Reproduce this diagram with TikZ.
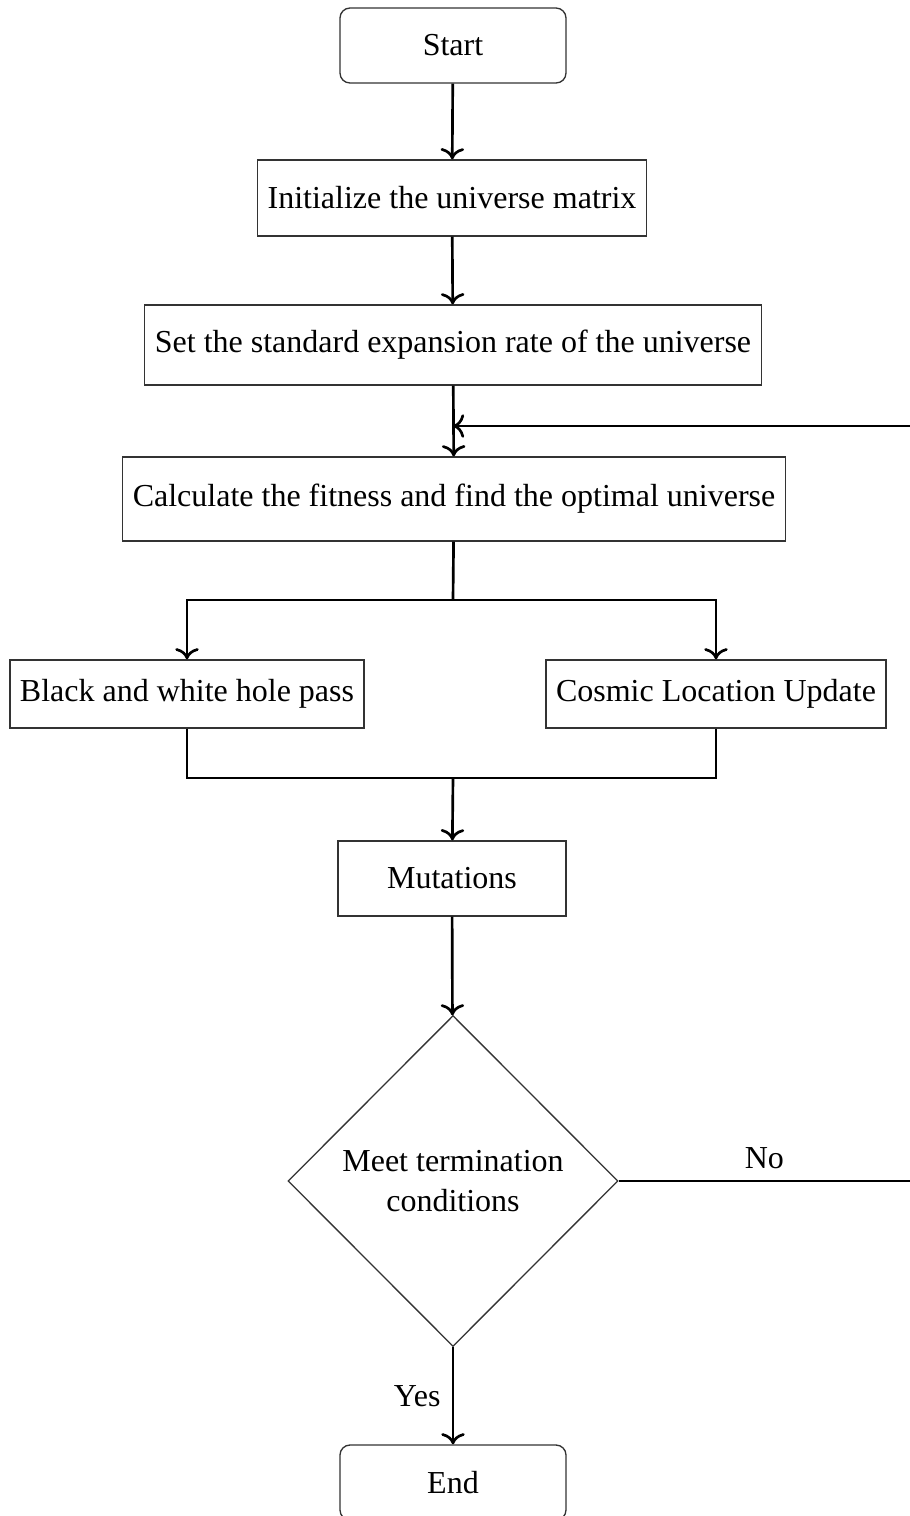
\documentclass[tikz,border=0pt]{standalone}
\usepackage{fontspec}
\setmainfont{Liberation Serif}
\usetikzlibrary{positioning, shapes.geometric, arrows.meta}

\begin{document}
\begin{tikzpicture}[x=0.3pt, y=-0.3pt, font=\fontsize{9.6pt}{12pt}\selectfont,
		box/.style={shape=rectangle, draw=black!80, thin, inner sep=0.3em},
		term/.style={box, rounded corners=3pt, minimum width=67.8pt, minimum height=22.5pt},
		line/.style={thick, black}]
		\useasboundingbox (0, 0) rectangle (910, 1516);
		\node[term] (start) at (453, 45.5) {Start};
		\node[box, minimum width=116.4pt, minimum height=22.8pt] (init) at (452, 198) {Initialize the universe matrix};
		\node[box, minimum width=185.1pt, minimum height=24pt] (rate) at (453, 345) {Set the standard expansion rate of the universe};
		\node[box, minimum width=198pt, minimum height=25.2pt] (fit) at (454, 499) {Calculate the fitness and find the optimal universe};
		\node[box, minimum width=106.2pt, minimum height=20.4pt] (hole) at (187, 694) {Black and white hole pass};
		\node[box, minimum width=101.7pt, minimum height=20.4pt] (cosmic) at (716, 694) {Cosmic Location Update};
		\node[box, minimum width=68.4pt, minimum height=22.5pt] (mut) at (452, 878.5) {Mutations};
		\node[shape=diamond, draw=black!80, thin, align=center, minimum width=99pt, minimum height=99.3pt, inner sep=0pt] (cond) at (453, 1181) {Meet termination\\conditions};
		\node[term] (stop) at (453, 1482.5) {End};
		
		\coordinate (join) at (453, 426);
		\coordinate (back) at (910, 426);
		\coordinate (split) at (453, 600);
		\coordinate (merge) at (453, 778);
		\coordinate (out) at (910, 1181);
		
		\draw[line, ->] (start) -- (init);
		\draw[line, ->] (init) -- (rate);
		\draw[line, ->] (rate) -- (fit);
		\draw[line, ->] (back) -- (join);
		\draw[line] (fit) -- (split);
		\draw[line, ->] (split) -| (hole);
		\draw[line, ->] (split) -| (cosmic);
		\draw[line] (hole) |- (merge);
		\draw[line] (cosmic) |- (merge);
		\draw[line, ->] (merge) -- (mut);
		\draw[line, ->] (mut) -- (cond);
		\draw[line] (cond) -- node[above] (no) {No} (out);
		\draw[line, ->] (cond) -- node[left] (yes) {Yes} (stop);
	\end{tikzpicture}
\end{document}
